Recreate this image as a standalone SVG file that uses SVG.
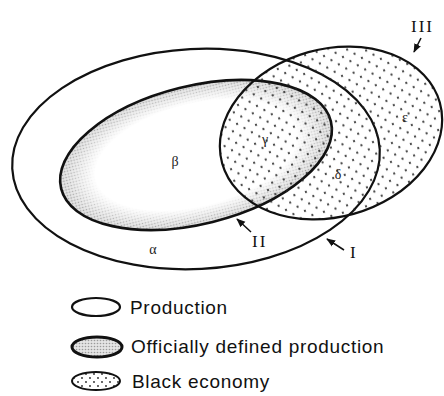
<svg xmlns="http://www.w3.org/2000/svg" width="444" height="396" viewBox="0 0 444 396">
<style>
.ln{stroke:#111;stroke-width:2.2}
.gk{font-family:"Liberation Serif","DejaVu Serif",serif;font-size:14px;fill:#222}
.rn{font-family:"Liberation Serif","DejaVu Serif",serif;font-size:17px;fill:#111;letter-spacing:2px}
.lg{font-family:"Liberation Sans",Arial,sans-serif;font-size:19px;fill:#111;letter-spacing:0.7px}
.ld{fill:none;stroke:#111;stroke-width:1.5;marker-end:url(#ah)}
</style>
<defs>
<pattern id="stip" width="3" height="3" patternUnits="userSpaceOnUse">
<rect width="3" height="3" fill="#e4e4e4"/>
<circle cx="1.5" cy="1.5" r="0.8" fill="#9a9a9a"/>
</pattern>
<pattern id="dots" width="12" height="12" patternUnits="userSpaceOnUse">
<ellipse cx="3" cy="3" rx="0.9" ry="1.2" fill="#222"/>
<ellipse cx="9" cy="9" rx="0.9" ry="1.2" fill="#222"/>
</pattern>
<pattern id="dotsS" width="8" height="8" patternUnits="userSpaceOnUse">
<ellipse cx="2" cy="2" rx="0.9" ry="1.1" fill="#222"/>
<ellipse cx="6" cy="6" rx="0.9" ry="1.1" fill="#222"/>
</pattern>
<radialGradient id="fade">
<stop offset="0" stop-color="#fff" stop-opacity="1"/>
<stop offset="0.74" stop-color="#fff" stop-opacity="1"/>
<stop offset="0.97" stop-color="#fff" stop-opacity="0"/>
</radialGradient>
<marker id="ah" viewBox="0 0 10 10" refX="9" refY="5" markerWidth="6" markerHeight="6" orient="auto-start-reverse">
<path d="M0,1 L10,5 L0,9 z" fill="#111"/>
</marker>
</defs>
<rect width="444" height="396" fill="#fff"/>

<g id="production">
<ellipse cx="196" cy="159" rx="184" ry="110" transform="rotate(-3 196 159)" fill="#fff" class="ln"/>
</g>
<g id="official">
<ellipse cx="196" cy="155" rx="139" ry="69" transform="rotate(-14 196 155)" fill="url(#stip)"/>
<ellipse cx="196" cy="155" rx="139" ry="69" transform="rotate(-14 196 155)" fill="url(#fade)"/>
<ellipse cx="196" cy="155" rx="139" ry="69" transform="rotate(-14 196 155)" fill="none" stroke="#111" stroke-width="2.6"/>
</g>
<g id="black">
<ellipse cx="331" cy="133" rx="113" ry="84" transform="rotate(-15.6 331 133)" fill="url(#dots)" class="ln"/>
</g>

<g id="regions">
<text class="gk" x="153" y="254" text-anchor="middle">α</text>
<text class="gk" x="175" y="166" text-anchor="middle">β</text>
<text class="gk" x="265" y="144" text-anchor="middle">γ</text>
<text class="gk" x="338" y="179" text-anchor="middle">δ</text>
<text class="gk" x="405" y="122" text-anchor="middle">ε</text>
</g>

<g id="connectors">
<line class="ld" x1="251" y1="232" x2="237" y2="219"/>
<line class="ld" x1="344" y1="250" x2="327" y2="239"/>
<line class="ld" x1="421" y1="38" x2="414" y2="52"/>
</g>
<g id="labels">
<text class="rn" x="252" y="247">II</text>
<text class="rn" x="350" y="258">I</text>
<text class="rn" x="411" y="32">III</text>
</g>

<g id="legend-production">
<ellipse cx="96" cy="307" rx="24" ry="9" fill="#fff" stroke="#111" stroke-width="2.2"/>
<text class="lg" x="130" y="314">Production</text>
</g>
<g id="legend-official">
<ellipse cx="97" cy="347" rx="25" ry="10" fill="url(#stip)" stroke="#111" stroke-width="3"/>
<text class="lg" x="131" y="353">Officially defined production</text>
</g>
<g id="legend-black">
<ellipse cx="96" cy="381" rx="24" ry="9" fill="url(#dotsS)" stroke="#111" stroke-width="2"/>
<text class="lg" x="132" y="388">Black economy</text>
</g>
</svg>
